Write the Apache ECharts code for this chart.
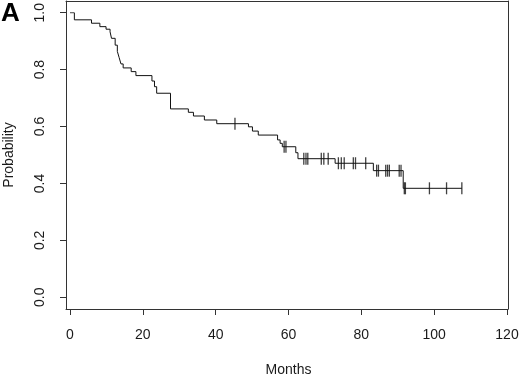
<!DOCTYPE html>
<html>
<head>
<meta charset="utf-8">
<script src="https://cdn.jsdelivr.net/npm/echarts@6/dist/echarts.min.js"></script>
<style>
  html, body { margin: 0; padding: 0; background: #fff; }
  #chart { width: 520px; height: 376px; }
</style>
</head>
<body>
<div id="chart"></div>
<script>
// survival curve
var stepMonths = [0, 1.2, 5.9, 8.2, 9.9, 11.0, 11.4, 12.4, 13.0, 13.5, 14.0, 14.6, 16.8, 18.1,
    22.5, 23.2, 23.8, 27.6, 32.5, 33.9, 36.9, 40.3, 49.0, 50.1, 51.7, 57.0, 57.7, 58.3,
    62.0, 62.6, 72.8, 83.3, 91.5, 107.6];
var stepProb = [1.0, 0.975, 0.963, 0.951, 0.942, 0.933, 0.910, 0.886, 0.864, 0.842, 0.820, 0.806, 0.793, 0.779,
    0.760, 0.740, 0.717, 0.662, 0.650, 0.637, 0.623, 0.610, 0.599, 0.584, 0.570, 0.553, 0.541, 0.529,
    0.508, 0.487, 0.471, 0.445, 0.383, 0.383];

// censored patients (tick marks)
var censorMonths = [45.3, 58.8, 59.3, 64.2, 64.8, 65.3, 69.0, 69.7, 70.9, 73.7, 74.5, 75.3, 77.8, 78.4,
    81.2, 84.2, 84.7, 86.7, 87.2, 87.7, 90.4, 90.9, 91.8, 92.1, 98.7, 103.4, 107.6];
var censorProb = [0.610, 0.529, 0.529, 0.487, 0.487, 0.487, 0.487, 0.487, 0.487, 0.471, 0.471, 0.471, 0.471, 0.471,
    0.471, 0.445, 0.445, 0.445, 0.445, 0.445, 0.445, 0.445, 0.383, 0.383, 0.383, 0.383, 0.383];

var xTicks = [0, 20, 40, 60, 80, 100, 120];
var yTicks = [0, 0.2, 0.4, 0.6, 0.8, 1.0];

var FONT = 'Liberation Sans';
var INK = '#1a1a1a';
var LINE = '#333';

var curve = stepMonths.map(function (m, i) { return [m, stepProb[i]]; });
var marks = censorMonths.map(function (m, i) { return [m, censorProb[i]]; });

// plain frame axis for the box around the plot
function frameAxis(pos)
{
    return {
        gridIndex: 1, type: 'value', min: 0, max: 1, position: pos,
        axisLine: { show: true, onZero: false, lineStyle: { color: LINE, width: 1 } },
        axisTick: { show: false }, axisLabel: { show: false }, splitLine: { show: false }
    };
}

var chart = echarts.init(document.getElementById('chart'));

var option = {
    animation: false,
    backgroundColor: '#fff',
    title: {
        text: 'A',
        left: 1,
        top: 1,
        padding: 0,
        textStyle: { fontFamily: FONT, fontSize: 26, fontWeight: 'bold', color: '#000' }
    },
    grid: [
        // data area (0..120, 0..1)
        { left: 70, right: 13, top: 12.7, bottom: 78.7, outerBoundsMode: 'none', containLabel: false },
        // plot box
        { left: 66, right: 12, top: 1, bottom: 67, outerBoundsMode: 'none', containLabel: false }
    ],
    xAxis: [
        {
            gridIndex: 0,
            type: 'value',
            min: xTicks[0],
            max: xTicks[xTicks.length - 1],
            interval: 20,
            offset: 11.7,
            name: 'Months',
            nameLocation: 'middle',
            nameGap: 54,
            nameTextStyle: { fontFamily: FONT, fontSize: 14, color: INK },
            axisLine: { show: true, onZero: false, lineStyle: { color: LINE, width: 1 } },
            axisTick: { show: true, length: 6, lineStyle: { color: LINE } },
            axisLabel: { margin: 19, fontFamily: FONT, fontSize: 14, color: INK },
            splitLine: { show: false }
        },
        frameAxis('bottom'),
        frameAxis('top')
    ],
    yAxis: [
        {
            gridIndex: 0,
            type: 'value',
            min: yTicks[0],
            max: yTicks[yTicks.length - 1],
            interval: 0.2,
            offset: 4,
            name: 'Probability',
            nameLocation: 'middle',
            nameGap: 50,
            nameRotate: 90,
            nameTextStyle: { fontFamily: FONT, fontSize: 14, color: INK },
            axisLine: { show: true, onZero: false, lineStyle: { color: LINE, width: 1 } },
            axisTick: { show: true, length: 6, lineStyle: { color: LINE } },
            axisLabel: {
                rotate: 90,
                margin: 19,
                fontFamily: FONT,
                fontSize: 14,
                color: INK,
                formatter: function (v) { return v.toFixed(1); }
            },
            splitLine: { show: false }
        },
        frameAxis('left'),
        frameAxis('right')
    ],
    series: [
        {
            type: 'line',
            xAxisIndex: 0,
            yAxisIndex: 0,
            step: 'end',
            data: curve,
            symbol: 'none',
            lineStyle: { color: '#111', width: 1 }
        },
        {
            type: 'scatter',
            xAxisIndex: 0,
            yAxisIndex: 0,
            data: marks,
            symbol: 'rect',
            symbolSize: [1.3, 12],
            itemStyle: { color: '#111' }
        }
    ]
};

chart.setOption(option);
</script>
</body>
</html>
